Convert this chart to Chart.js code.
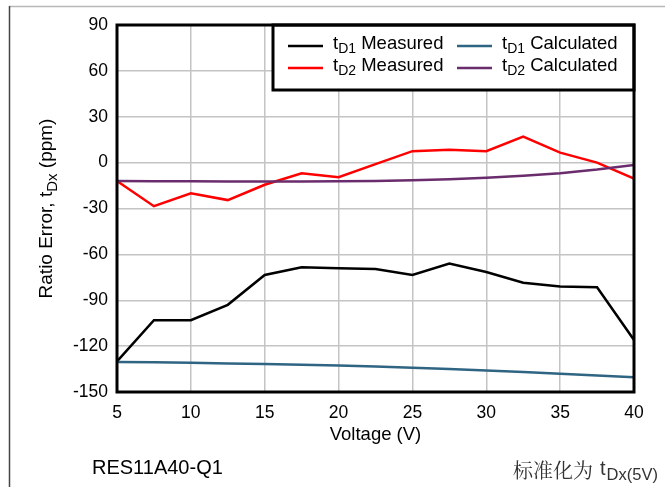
<!DOCTYPE html>
<html>
<head>
<meta charset="utf-8">
<script src="https://cdn.jsdelivr.net/npm/chart.js@4"></script>
<style>
  html, body { margin: 0; padding: 0; background: #fff; }
  #wrap { position: relative; width: 665px; height: 487px; }
</style>
</head>
<body>
<div id="wrap"><canvas id="ratioChart" width="665" height="487"></canvas></div>
<script>
// Voltage sweep (V)
const voltages = [5, 7.5, 10, 12.5, 15, 17.5, 20, 22.5, 25, 27.5, 30, 32.5, 35, 37.5, 40];

// Ratio error (ppm)
const tD1Measured = [-130, -103, -103, -93, -73.5, -68.5, -69, -69.5, -73.5, -66, -71.5, -78.5, -81, -81.5, -116];
const tD2Measured = [-12, -28.5, -20, -24.5, -14.5, -7, -9.5, -1, 7.5, 8.5, 7.5, 17, 6.5, 0, -10.5];
const tD1Calculated = [-130.3, -130.6, -130.9, -131.3, -131.7, -132.1, -132.6, -133.3, -134.1, -134.9, -135.9, -136.9, -138, -139.2, -140.4];
const tD2Calculated = [-12, -12.1, -12.2, -12.3, -12.3, -12.3, -12.2, -12, -11.6, -10.8, -9.9, -8.6, -6.9, -4.5, -1.5];

const xTicks = [5, 10, 15, 20, 25, 30, 35, 40];
const yTicks = [-150, -120, -90, -60, -30, 0, 30, 60, 90];

const FONT = '"Liberation Sans", Arial, sans-serif';
const CJK_FONT = '"Noto Serif CJK SC", "Noto Sans CJK SC", sans-serif';
const COLORS = {
  d1m: '#000000',
  d2m: '#ff0000',
  d1c: '#2f6583',
  d2c: '#6a2c6c',
};

const legendItems = [
  { base: 't', sub: 'D1', rest: ' Measured', color: COLORS.d1m, col: 0, row: 0 },
  { base: 't', sub: 'D2', rest: ' Measured', color: COLORS.d2m, col: 0, row: 1 },
  { base: 't', sub: 'D1', rest: ' Calculated', color: COLORS.d1c, col: 1, row: 0 },
  { base: 't', sub: 'D2', rest: ' Calculated', color: COLORS.d2c, col: 1, row: 1 },
];

function subWidth(ctx, base, sub, rest, size) {
  ctx.font = `${size}px ${FONT}`;
  let w = ctx.measureText(base).width + ctx.measureText(rest).width;
  ctx.font = `${Math.round(size * 0.78)}px ${FONT}`;
  return w + ctx.measureText(sub).width;
}

// draws "base" + subscript + rest, left aligned
function drawSubText(ctx, x, y, base, sub, rest, size) {
  ctx.font = `${size}px ${FONT}`;
  ctx.fillText(base, x, y);
  x += ctx.measureText(base).width;
  ctx.font = `${Math.round(size * 0.78)}px ${FONT}`;
  ctx.fillText(sub, x, y + size * 0.3);
  x += ctx.measureText(sub).width;
  ctx.font = `${size}px ${FONT}`;
  ctx.fillText(rest, x, y);
}

function series(label, data, color) {
  return {
    label,
    data: voltages.map((v, i) => ({ x: v, y: data[i] })),
    borderColor: color,
    backgroundColor: color,
    borderWidth: 2.5,
    pointRadius: 0,
    tension: 0,
  };
}

const framePlugin = {
  id: 'framePlugin',
  beforeDraw(chart) {
    const { ctx } = chart;
    ctx.save();
    ctx.fillStyle = '#fff';
    ctx.fillRect(0, 0, chart.width, chart.height);
    // outer page frame
    ctx.lineWidth = 1.5;
    ctx.strokeStyle = '#b8b8b8';
    ctx.beginPath();
    ctx.moveTo(9, 6.5);
    ctx.lineTo(chart.width, 6.5);
    ctx.stroke();
    ctx.strokeStyle = '#444';
    ctx.beginPath();
    ctx.moveTo(9.5, 6);
    ctx.lineTo(9.5, chart.height);
    ctx.stroke();
    ctx.restore();
  },
  afterDraw(chart) {
    const { ctx, chartArea: a } = chart;
    ctx.save();

    // legend box
    const lx = 273, ly = a.top, lw = a.right - lx, lh = 90 - a.top;
    ctx.fillStyle = '#fff';
    ctx.fillRect(lx, ly, lw, lh);
    ctx.lineWidth = 3;
    ctx.strokeStyle = '#000';
    ctx.strokeRect(lx, ly, lw, lh);

    const colX = [288, 457];
    const rowY = [46, 68];
    legendItems.forEach((it) => {
      const x0 = colX[it.col];
      const y0 = rowY[it.row];
      ctx.strokeStyle = it.color;
      ctx.lineWidth = 2.5;
      ctx.beginPath();
      ctx.moveTo(x0, y0);
      ctx.lineTo(x0 + 35, y0);
      ctx.stroke();
      ctx.fillStyle = '#000';
      ctx.textBaseline = 'middle';
      ctx.textAlign = 'left';
      drawSubText(ctx, x0 + 45, y0 - 2, it.base, it.sub, it.rest, 18.5);
    });

    // plot border
    ctx.lineWidth = 3;
    ctx.strokeStyle = '#000';
    ctx.strokeRect(a.left, a.top, a.right - a.left, a.bottom - a.top);

    // axis titles
    ctx.fillStyle = '#000';
    ctx.textBaseline = 'middle';
    ctx.textAlign = 'center';
    ctx.font = `18.5px ${FONT}`;
    ctx.fillText('Voltage (V)', (a.left + a.right) / 2, 435);

    ctx.save();
    ctx.translate(47, (a.top + a.bottom) / 2);
    ctx.rotate(-Math.PI / 2);
    ctx.textAlign = 'left';
    const w = subWidth(ctx, 'Ratio Error, t', 'Dx', ' (ppm)', 19);
    drawSubText(ctx, -w / 2, 0, 'Ratio Error, t', 'Dx', ' (ppm)', 19);
    ctx.restore();

    // footer labels
    ctx.textAlign = 'left';
    ctx.font = `20px ${FONT}`;
    ctx.fillText('RES11A40-Q1', 92, 468);

    ctx.fillStyle = '#333';
    ctx.font = `20px ${CJK_FONT}`;
    ctx.fillText('标准化为', 513, 470);
    ctx.font = `20px ${FONT}`;
    ctx.fillText('t', 600, 469);
    const tW = ctx.measureText('t').width;
    ctx.font = `16.5px ${FONT}`;
    ctx.fillText('Dx(5V)', 600 + tW + 1, 475);

    ctx.restore();
  },
};

new Chart(document.getElementById('ratioChart').getContext('2d'), {
  type: 'line',
  data: {
    datasets: [
      series('tD1 Calculated', tD1Calculated, COLORS.d1c),
      series('tD2 Calculated', tD2Calculated, COLORS.d2c),
      series('tD1 Measured', tD1Measured, COLORS.d1m),
      series('tD2 Measured', tD2Measured, COLORS.d2m),
    ],
  },
  options: {
    responsive: false,
    animation: false,
    layout: { padding: { left: 0, top: 25, right: 31, bottom: 0 } },
    plugins: {
      legend: { display: false },
      tooltip: { enabled: false },
    },
    scales: {
      x: {
        type: 'linear',
        min: 5,
        max: 40,
        afterBuildTicks(scale) { scale.ticks = xTicks.map((v) => ({ value: v })); },
        afterFit(scale) { scale.height = 95; },
        ticks: { color: '#000', font: { family: FONT, size: 17.5 }, padding: 11, maxRotation: 0 },
        grid: { color: '#c4c4c4', lineWidth: 1.5, drawTicks: false },
        border: { display: false },
      },
      y: {
        min: -150,
        max: 90,
        afterBuildTicks(scale) { scale.ticks = yTicks.map((v) => ({ value: v })); },
        afterFit(scale) { scale.width = 117; },
        ticks: { color: '#000', font: { family: FONT, size: 17.5 }, padding: 9 },
        grid: { color: '#c4c4c4', lineWidth: 1.5, drawTicks: false },
        border: { display: false },
      },
    },
  },
  plugins: [framePlugin],
});
</script>
</body>
</html>
